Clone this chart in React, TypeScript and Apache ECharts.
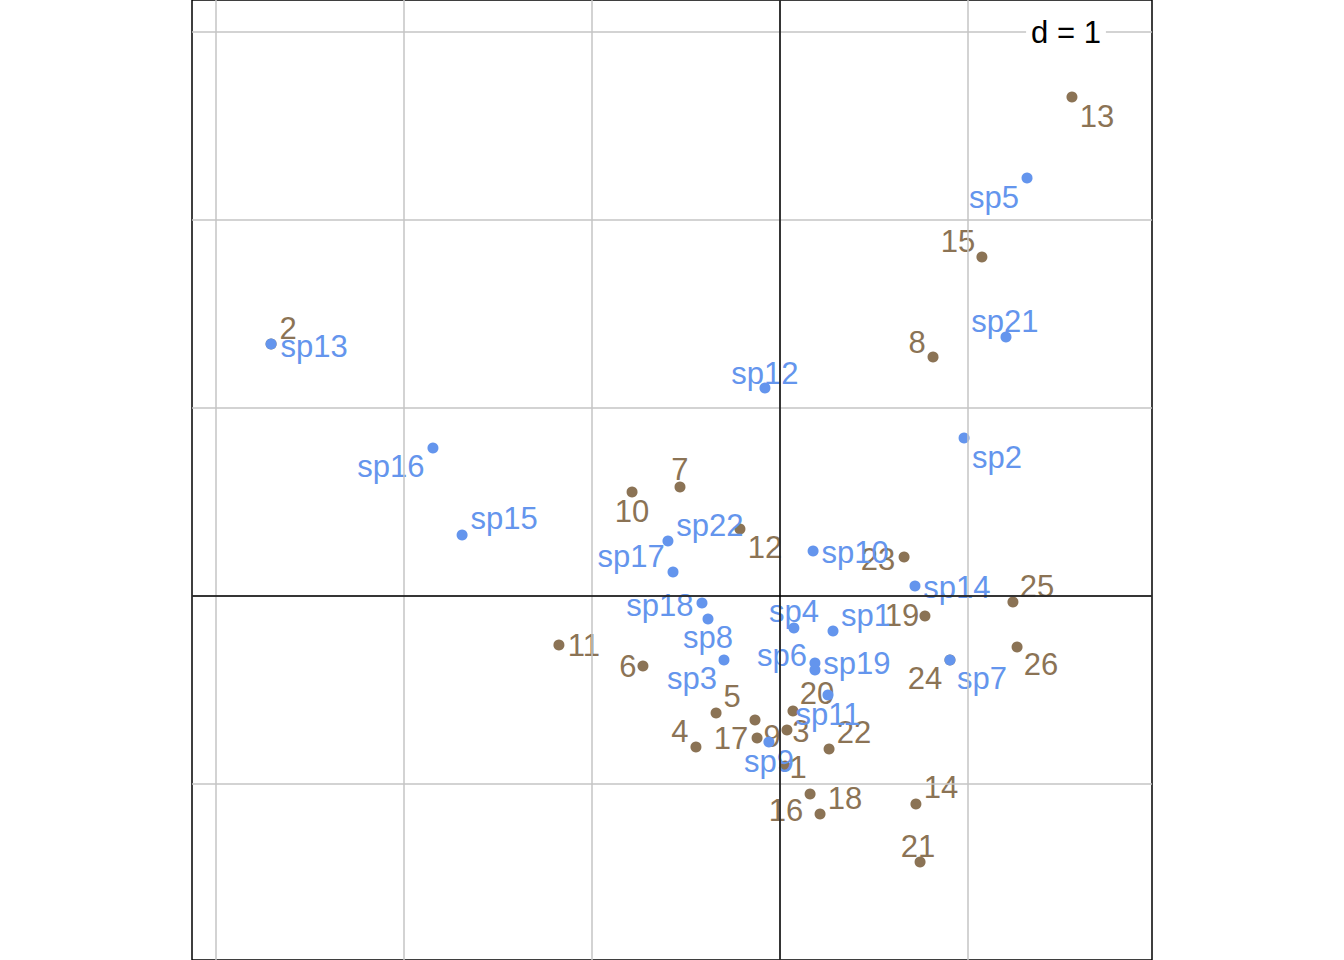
import React, { useEffect, useRef } from "react";
import * as echarts from "echarts";

// Sites (rows)
const siteNames = ["1","2","3","4","5","6","7","8","9","10","11","12","13","14","15","16","17","18","19","20","21","22","23","24","25","26"];
const siteX = [0.027,-2.707,0.037,-0.447,-0.340,-0.729,-0.532,0.814,-0.122,-0.787,-1.176,-0.213,1.553,0.723,1.074,0.160,-0.133,0.213,0.771,0.069,0.745,0.261,0.660,0.904,1.239,1.261];
const siteY = [-0.904,1.340,-0.713,-0.803,-0.622,-0.372,0.580,1.271,-0.755,0.553,-0.261,0.356,2.654,-1.106,1.803,-1.053,-0.660,-1.160,-0.106,-0.612,-1.415,-0.814,0.207,-0.340,-0.032,-0.271];

// Species (columns)
const speciesNames = ["sp1","sp2","sp3","sp4","sp5","sp6","sp7","sp8","sp9","sp10","sp11","sp12","sp13","sp14","sp15","sp16","sp17","sp18","sp19","sp21","sp22"];
const speciesX = [0.282,0.979,-0.298,0.074,1.314,0.186,0.904,-0.383,-0.059,0.176,0.255,-0.080,-2.707,0.718,-1.691,-1.846,-0.569,-0.415,0.186,1.202,-0.596];
const speciesY = [-0.186,0.840,-0.340,-0.170,2.223,-0.394,-0.340,-0.122,-0.777,0.239,-0.527,1.106,1.340,0.053,0.324,0.787,0.128,-0.037,-0.356,1.378,0.293];

// Grid lines (d = 1)
const gridXTicks = [-3, -2, -1, 0, 1];
const gridYTicks = [-1, 0, 1, 2, 3];

// Label placement (pixel offsets from each point)
const siteLabelOffsets: number[][] = [
  [13,2],[17,-16],[14,1],[-16,-15],[16,-16],[-15,1],[0,-17],[-16,-15],[15,-1],[0,19],
  [25,0],[25,18],[25,19],[25,-16],[-24,-16],[-24,17],[-24,18],[25,-16],[-23,0],[24,-18],
  [-2,-16],[25,-17],[-26,2],[-25,19],[24,-16],[24,18]
];
const speciesLabelOffsets: number[][] = [
  [33,-15],[33,19],[-32,19],[0,-16],[-33,19],[-33,-15],[32,19],[0,19],[0,19],[42,1],
  [0,19],[0,-15],[43,2],[42,1],[42,-17],[-42,18],[-42,-15],[-42,3],[42,1],[-1,-15],[42,-15]
];

const SITE_COLOR = "#8B7355";
const SPECIES_COLOR = "#6495ED";
const FONT = "Liberation Sans, Arial, Helvetica, sans-serif";
const FONT_SIZE = 31;

export default function App() {
  const ref = useRef<HTMLDivElement>(null);
  useEffect(() => {
    if (!ref.current) return;
    const chart = echarts.init(ref.current, null, { renderer: "svg" });
    const siteData = siteNames.map((n, i) => ({ name: n, value: [siteX[i], siteY[i]] }));
    const speciesData = speciesNames.map((n, i) => ({ name: n, value: [speciesX[i], speciesY[i]] }));
    const xMin = (192 - 780) / 188;
    const xMax = (1152 - 780) / 188;
    const yMax = 596 / 188;
    const yMin = (596 - 960) / 188;
    const gridLineData = [
      ...gridXTicks.map((v) => ({ xAxis: v })),
      ...gridYTicks.map((v) => ({ yAxis: v })),
    ];
    const labelStyle = (color: string) => ({
      show: true,
      position: "inside",
      formatter: "{b}",
      color,
      fontFamily: FONT,
      fontSize: FONT_SIZE,
      align: "center",
      verticalAlign: "middle",
    });
    chart.setOption({
      animation: false,
      backgroundColor: "#ffffff",
      grid: {
        left: 192,
        right: 192,
        top: 0,
        bottom: 0,
        show: true,
        borderColor: "#000000",
        borderWidth: 1.5,
        backgroundColor: "#ffffff",
        z: 0,
      },
      xAxis: {
        type: "value",
        min: xMin,
        max: xMax,
        axisLine: { show: false },
        axisTick: { show: false },
        axisLabel: { show: false },
        splitLine: { show: false },
      },
      yAxis: {
        type: "value",
        min: yMin,
        max: yMax,
        axisLine: { show: false },
        axisTick: { show: false },
        axisLabel: { show: false },
        splitLine: { show: false },
      },
      series: [
        {
          type: "scatter",
          name: "grid",
          data: [],
          silent: true,
          z: 1,
          markLine: {
            silent: true,
            symbol: ["none", "none"],
            label: { show: false },
            lineStyle: { color: "#c4c4c4", width: 1.5, type: "solid" },
            emphasis: { disabled: true },
            data: gridLineData,
          },
        },
        {
          type: "scatter",
          name: "axes",
          data: [],
          silent: true,
          z: 2,
          markLine: {
            silent: true,
            symbol: ["none", "none"],
            label: { show: false },
            lineStyle: { color: "#000000", width: 1.5, type: "solid" },
            emphasis: { disabled: true },
            data: [{ xAxis: 0 }, { yAxis: 0 }],
          },
        },
        {
          type: "scatter",
          name: "sites",
          z: 3,
          symbol: "circle",
          symbolSize: 11,
          itemStyle: { color: SITE_COLOR, opacity: 1 },
          label: labelStyle(SITE_COLOR),
          labelLayout: (p: any) => ({
            dx: siteLabelOffsets[p.dataIndex][0],
            dy: siteLabelOffsets[p.dataIndex][1],
            hideOverlap: false,
          }),
          data: siteData,
        },
        {
          type: "scatter",
          name: "species",
          z: 4,
          symbol: "circle",
          symbolSize: 11,
          itemStyle: { color: SPECIES_COLOR, opacity: 1 },
          label: labelStyle(SPECIES_COLOR),
          labelLayout: (p: any) => ({
            dx: speciesLabelOffsets[p.dataIndex][0],
            dy: speciesLabelOffsets[p.dataIndex][1],
            hideOverlap: false,
          }),
          data: speciesData,
        },
      ],
      graphic: [
        {
          type: "text",
          x: 1066,
          y: 32,
          z: 100,
          style: {
            text: "d = 1",
            fill: "#000000",
            font: `${FONT_SIZE}px ${FONT}`,
            align: "center",
            verticalAlign: "middle",
            backgroundColor: "#ffffff",
            padding: [0, 5],
          },
        },
      ],
    });
    return () => chart.dispose();
  }, []);
  return (
    <div
      ref={ref}
      style={{ position: "fixed", left: 0, top: 0, width: 1344, height: 960, background: "#fff" }}
    />
  );
}
